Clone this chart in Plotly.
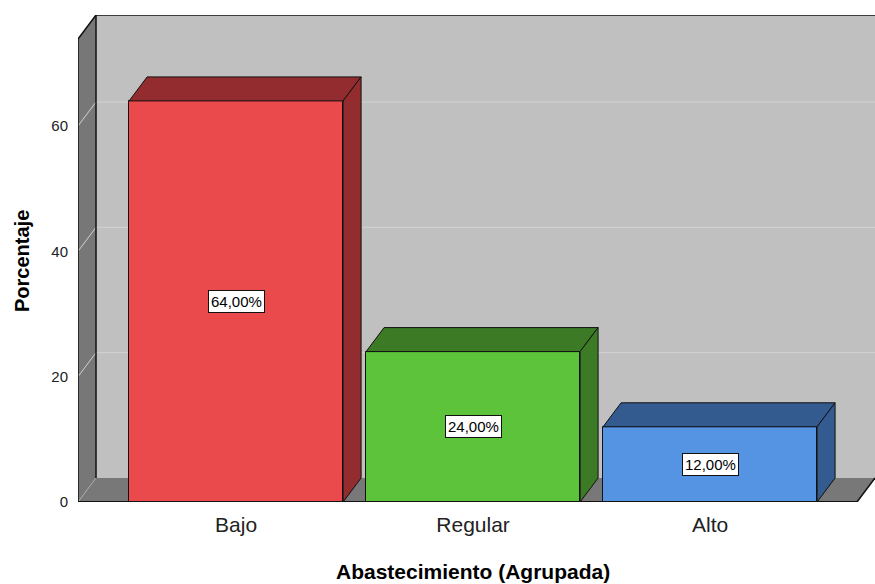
import plotly.graph_objects as go

# Data
categories = ["Bajo", "Regular", "Alto"]
percent = [64.0, 24.0, 12.0]
y_ticks = [0, 20, 40, 60]

front_colors = ["#EB4A4C", "#5CC33A", "#5594E3"]
shade_colors = ["#922C2E", "#3C7A25", "#335B8F"]

# Figure geometry (pixels)
W, H = 875, 584
ML, MR, MT, MB = 78, 0, 15, 82
plot_w = W - ML - MR
plot_h = H - MT - MB

px_per_cat = 237.0
x0 = -0.667
x1 = x0 + plot_w / px_per_cat
px_per_unit = 6.267
y1 = plot_h / px_per_unit

# 3D depth offsets in data units
DX = 18.0 / px_per_cat
DY = 24.0 / px_per_unit
bar_w = 214.0 / px_per_cat

front_right = x1 - DX          # right edge of the front plane
wall_top = y1 - DY             # top of the walls on the front plane

FONT = "Liberation Sans, Arial"

fig = go.Figure()

shapes = []
def poly(xs, ys, fill, layer="below"):
    path = "M " + " L ".join(f"{x},{y}" for x, y in zip(xs, ys)) + " Z"
    shapes.append(dict(type="path", path=path, xref="x", yref="y",
                       fillcolor=fill, line=dict(width=0), layer=layer))

def seg(xa, ya, xb, yb, color, width=1, layer="below"):
    shapes.append(dict(type="line", x0=xa, y0=ya, x1=xb, y1=yb, xref="x", yref="y",
                       line=dict(color=color, width=width), layer=layer))

# back wall
poly([x0 + DX, x1, x1, x0 + DX], [DY, DY, y1, y1], "#C0C0C0")
# left wall
poly([x0, x0 + DX, x0 + DX, x0], [0, DY, y1, wall_top], "#777777")
# floor
poly([x0, front_right, x1, x0 + DX], [0, 0, DY, DY], "#787878")

# gridlines on back and left walls
grid_color = "#D2D2D2"
for t in y_ticks:
    seg(x0, t, x0 + DX, t + DY, "#A8A8A8" if t == 0 else grid_color)
    if t > 0:
        seg(x0 + DX, t + DY, x1, t + DY, grid_color)

# frame edges
edge = "#111111"
seg(x0 + DX, y1, x1, y1, edge, 1.5)
seg(x0, wall_top, x0 + DX, y1, edge, 1.5)
seg(x0 + DX, DY, x0 + DX, y1, edge, 1.5)
seg(x0, 0, x0, wall_top, edge, 1.5)
seg(x0, 0, front_right, 0, edge, 2)
seg(front_right, 0, x1, DY, edge, 1.5)

# bar front faces
fig.add_trace(go.Bar(
    x=list(range(len(categories))), y=percent, width=bar_w,
    marker=dict(color=front_colors, line=dict(color="#111111", width=1)),
    hoverinfo="skip", showlegend=False,
))

# bar top and side faces
for i, v in enumerate(percent):
    l, r = i - bar_w / 2, i + bar_w / 2
    fig.add_trace(go.Scatter(
        x=[l, r, r + DX, l + DX, l], y=[v, v, v + DY, v + DY, v],
        mode="lines", fill="toself", fillcolor=shade_colors[i],
        line=dict(color="#111111", width=1), hoverinfo="skip", showlegend=False,
    ))
    fig.add_trace(go.Scatter(
        x=[r, r + DX, r + DX, r, r], y=[0, DY, v + DY, v, 0],
        mode="lines", fill="toself", fillcolor=shade_colors[i],
        line=dict(color="#111111", width=1), hoverinfo="skip", showlegend=False,
    ))

annotations = []
for i, v in enumerate(percent):
    annotations.append(dict(
        x=i, y=v / 2, xref="x", yref="y", showarrow=False,
        text=f"{v:.2f}".replace(".", ",") + "%",
        font=dict(family=FONT, size=15, color="#000000"),
        bgcolor="#FFFFFF", bordercolor="#111111", borderwidth=1, borderpad=2,
    ))

annotations.append(dict(
    text="<b>Porcentaje</b>", xref="paper", yref="paper",
    x=(22 - ML) / plot_w, y=(H - MB - 261) / plot_h,
    textangle=-90, showarrow=False, xanchor="center", yanchor="middle",
    font=dict(family=FONT, size=20, color="#000000"),
))
annotations.append(dict(
    text="<b>Abastecimiento (Agrupada)</b>", xref="paper", yref="paper",
    x=(473 - ML) / plot_w, y=-(571 - MT - plot_h) / plot_h,
    showarrow=False, xanchor="center", yanchor="middle",
    font=dict(family=FONT, size=21, color="#000000"),
))

fig.update_layout(
    width=W, height=H,
    margin=dict(l=ML, r=MR, t=MT, b=MB),
    paper_bgcolor="#FFFFFF", plot_bgcolor="#FFFFFF",
    shapes=shapes, annotations=annotations,
    bargap=0,
    font=dict(family=FONT, color="#222222"),
    xaxis=dict(range=[x0, x1], tickmode="array", tickvals=list(range(len(categories))),
               ticktext=categories, showgrid=False, zeroline=False, showline=False,
               ticks="outside", ticklen=4, tickcolor="rgba(0,0,0,0)",
               tickfont=dict(size=21, color="#222222"), fixedrange=True),
    yaxis=dict(range=[0, y1], tickmode="array", tickvals=y_ticks,
               showgrid=False, zeroline=False, showline=False,
               ticks="outside", ticklen=6, tickcolor="rgba(0,0,0,0)",
               tickfont=dict(size=15, color="#222222"), fixedrange=True),
)

fig.write_html("out.html")
